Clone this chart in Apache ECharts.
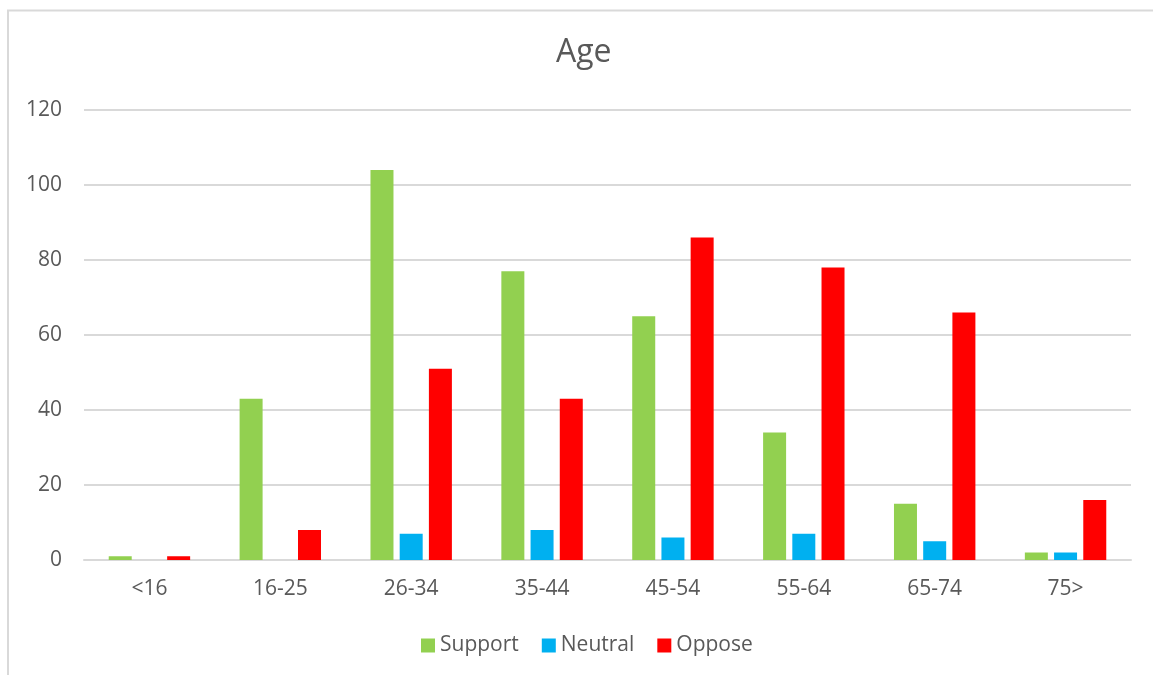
<!DOCTYPE html>
<html>
<head>
<meta charset="utf-8">
<title>Age</title>
<script src="https://cdn.jsdelivr.net/npm/echarts@6/dist/echarts.min.js"></script>
<style>
  html, body { margin: 0; padding: 0; background: #ffffff; }
  #chart { width: 1153px; height: 675px; }
</style>
</head>
<body>
<div id="chart"></div>
<script>
// Age groups on the category axis
const categories = ['<16', '16-25', '26-34', '35-44', '45-54', '55-64', '65-74', '75>'];

// Responses per age group
const supportValues = [1, 43, 104, 77, 65, 34, 15, 2];
const neutralValues = [0, 0, 7, 8, 6, 7, 5, 2];
const opposeValues  = [1, 8, 51, 43, 86, 78, 66, 16];

// Value axis ticks
const yTicks = [0, 20, 40, 60, 80, 100, 120];

const FONT = '"Open Sans", "Noto Sans", sans-serif';
const TEXT = '#595959';
const GRIDLINE = '#D9D9D9';

const chart = echarts.init(document.getElementById('chart'), null, { renderer: 'canvas' });

function barSeries(name, data, color) {
  return {
    name: name,
    type: 'bar',
    data: data,
    barWidth: 23,
    barGap: '27%',
    itemStyle: { color: color },
    emphasis: { disabled: true }
  };
}

chart.setOption({
  animation: false,
  backgroundColor: '#ffffff',
  textStyle: { fontFamily: FONT },
  graphic: [{
    type: 'rect',
    silent: true,
    shape: { x: 8, y: 10.5, width: 1200, height: 720 },
    style: { fill: 'none', stroke: GRIDLINE, lineWidth: 2 }
  }],
  title: {
    text: 'Age',
    left: 551,
    top: 32,
    textStyle: { fontFamily: FONT, fontSize: 32, fontWeight: 'normal', color: TEXT }
  },
  legend: {
    bottom: 14,
    left: 416,
    icon: 'rect',
    itemWidth: 14,
    itemHeight: 14,
    itemGap: 23,
    textStyle: { fontFamily: FONT, fontSize: 21, color: TEXT },
    data: ['Support', 'Neutral', 'Oppose']
  },
  grid: { left: 84, right: 22, top: 110, bottom: 115, containLabel: false },
  xAxis: {
    type: 'category',
    data: categories,
    axisLine: { lineStyle: { color: GRIDLINE, width: 2 } },
    axisTick: { show: false },
    axisLabel: { color: TEXT, fontFamily: FONT, fontSize: 21, margin: 19 }
  },
  yAxis: {
    type: 'value',
    min: yTicks[0],
    max: yTicks[yTicks.length - 1],
    interval: yTicks[1] - yTicks[0],
    axisLine: { show: false },
    axisTick: { show: false },
    splitLine: { lineStyle: { color: GRIDLINE, width: 2 } },
    axisLabel: { color: TEXT, fontFamily: FONT, fontSize: 21, margin: 22 }
  },
  series: [
    barSeries('Support', supportValues, '#92D050'),
    barSeries('Neutral', neutralValues, '#00B0F0'),
    barSeries('Oppose', opposeValues, '#FF0000')
  ]
});
</script>
</body>
</html>
